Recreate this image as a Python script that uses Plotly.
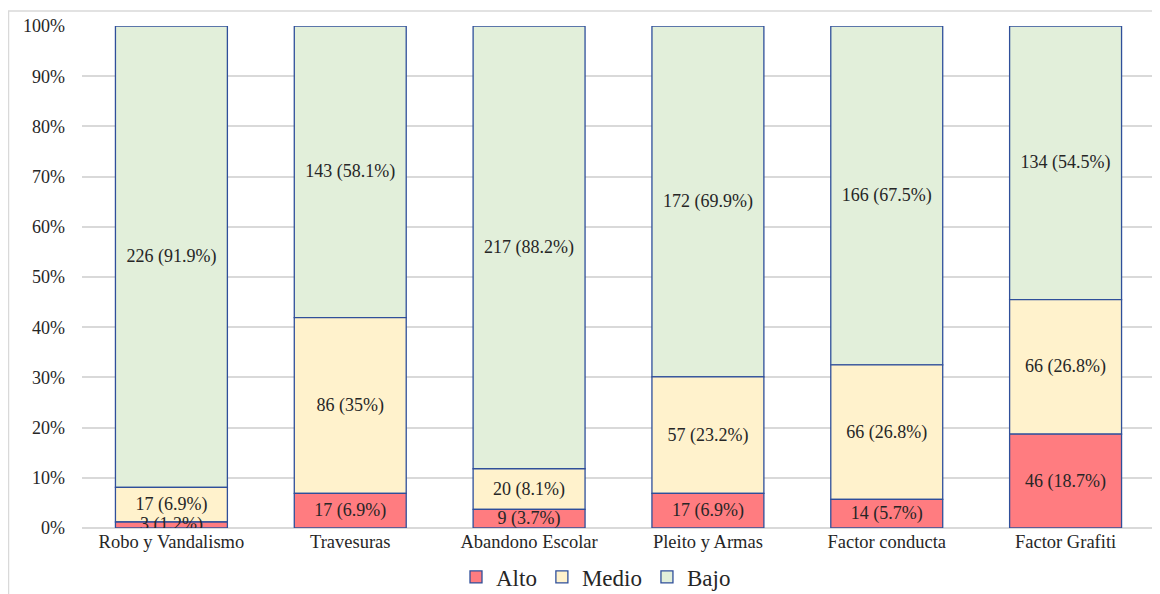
import numpy as np
import plotly.graph_objects as go

categories = ["Robo y Vandalismo", "Travesuras", "Abandono Escolar", "Pleito y Armas", "Factor conducta", "Factor Grafiti"]
alto_n = [3, 17, 9, 17, 14, 46]
alto_pct = [1.2, 6.9, 3.7, 6.9, 5.7, 18.7]
medio_n = [17, 86, 20, 57, 66, 66]
medio_pct = [6.9, 35, 8.1, 23.2, 26.8, 26.8]
bajo_n = [226, 143, 217, 172, 166, 134]
bajo_pct = [91.9, 58.1, 88.2, 69.9, 67.5, 54.5]
y_ticks = [0, 10, 20, 30, 40, 50, 60, 70, 80, 90, 100]

FONT = "Liberation Serif"
OUTLINE = "#2F4F9A"
TXT = "#262626"

series = [
    ("Alto", alto_n, alto_pct, "#FF7C80"),
    ("Medio", medio_n, medio_pct, "#FFF2CC"),
    ("Bajo", bajo_n, bajo_pct, "#E2EFDA"),
]

# stacked bases (cumulative) so the bottom segment can be drawn last and its label stays on top
bases = []
acc = np.zeros(len(categories))
for _, _, pct, _ in series:
    bases.append(acc.copy())
    acc = acc + np.array(pct, dtype=float)

fig = go.Figure()
for rank in [2, 1, 0]:
    name, n, pct, color = series[rank]
    fig.add_trace(go.Bar(
        name=name, x=categories, y=pct, base=bases[rank],
        text=[f"{a} ({b:g}%)" for a, b in zip(n, pct)],
        textposition="inside", insidetextanchor="middle", textangle=0,
        constraintext="none",
        textfont=dict(family=FONT, size=18, color=TXT),
        marker=dict(color=color, line=dict(color=OUTLINE, width=1.3)),
        width=0.626, legendrank=rank + 1,
    ))

# page body has an 8px margin: figure origin sits at (8, 8) of the window
OFF = 8
W, H = 1160 - OFF, 594 - OFF
PL, PR, PT, PB = 82, 1155, 26, 528  # plot area in window pixels
l, r, t, b = PL - OFF, W - (PR - OFF), PT - OFF, H - (PB - OFF)
pw, ph = W - l - r, H - t - b

def px(x):
    return (x - PL) / pw

def py(y):
    return (PB - y) / ph

fig.update_layout(
    barmode="overlay",
    width=W, height=H,
    margin=dict(l=l, r=r, t=t, b=b, autoexpand=False),
    paper_bgcolor="white", plot_bgcolor="white",
    font=dict(family=FONT, color=TXT),
    uniformtext=dict(minsize=18, mode="show"),
    showlegend=True,
    legend=dict(orientation="h", x=px(596), xanchor="center", y=py(577), yanchor="middle",
                font=dict(family=FONT, size=23, color=TXT), traceorder="normal",
                itemwidth=30),
    xaxis=dict(showgrid=False, showline=False, ticks="", automargin=False,
               tickfont=dict(family=FONT, size=18.5, color=TXT)),
    yaxis=dict(range=[0, 100], tickvals=y_ticks, ticktext=[f"{v}%" for v in y_ticks],
               showgrid=True, gridcolor="#D9D9D9", gridwidth=1.5, zeroline=True,
               zerolinecolor="#D9D9D9", zerolinewidth=1.5, automargin=False,
               ticklabelstandoff=16,
               tickfont=dict(family=FONT, size=18, color=TXT)),
    shapes=[
        dict(type="line", xref="paper", yref="paper", x0=px(8), x1=px(1170), y0=py(11), y1=py(11),
             line=dict(color="#D9D9D9", width=1.5)),
        dict(type="line", xref="paper", yref="paper", x0=px(8.5), x1=px(8.5), y0=py(11), y1=py(600),
             line=dict(color="#D9D9D9", width=1.5)),
    ],
)

fig.write_html("out.html")
